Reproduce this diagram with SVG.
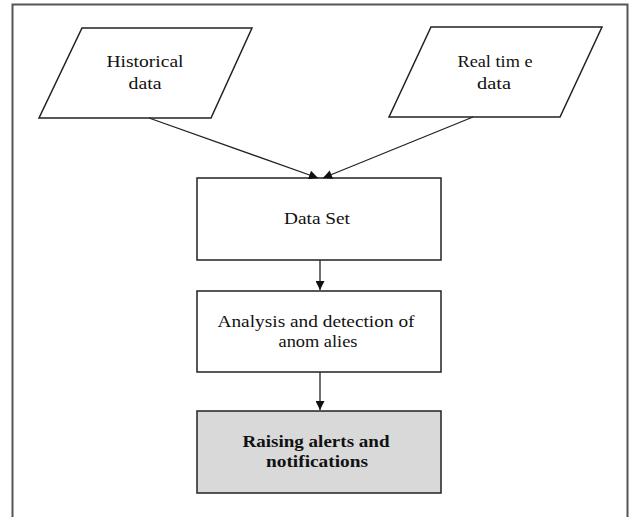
<svg xmlns="http://www.w3.org/2000/svg" width="630" height="517" viewBox="0 0 630 517">
<defs>
<style>
.shape{fill:#fff;stroke:#222;stroke-width:1.5}
.hl{fill:#d9d9d9}
.t{font-family:"Liberation Serif","Times New Roman",serif;font-size:17px;fill:#111;text-anchor:middle}
.b{font-weight:bold}
.c{stroke:#222;stroke-width:1.3;fill:none;marker-end:url(#ah)}
</style>
<marker id="ah" viewBox="0 0 10 10" refX="10" refY="5" markerWidth="10" markerHeight="9" markerUnits="userSpaceOnUse" orient="auto">
<path d="M0,0 L10,5 L0,10 Z" fill="#111"/>
</marker>
</defs>
<rect x="0" y="0" width="630" height="517" fill="#fff"/>
<path d="M12.5,520 V4.5 H627.5 V520" fill="none" stroke="#555" stroke-width="2"/>
<g id="historical">
<polygon class="shape" points="82,28 252,28 211,118 39,118"/>
<text class="t" x="145" y="67" textLength="77" lengthAdjust="spacingAndGlyphs">Historical</text>
<text class="t" x="145" y="89" textLength="33" lengthAdjust="spacingAndGlyphs">data</text>
</g>
<g id="realtime">
<polygon class="shape" points="431,27 602,27 560,117 389,117"/>
<text class="t" x="495" y="67" textLength="75" lengthAdjust="spacingAndGlyphs">Real tim e</text>
<text class="t" x="494" y="89" textLength="34" lengthAdjust="spacingAndGlyphs">data</text>
</g>
<g id="dataset">
<rect class="shape" x="197" y="178" width="244" height="82"/>
<text class="t" x="317" y="224" textLength="66" lengthAdjust="spacingAndGlyphs">Data Set</text>
</g>
<g id="analysis">
<rect class="shape" x="197" y="291" width="244" height="81"/>
<text class="t" x="316" y="327" textLength="197" lengthAdjust="spacingAndGlyphs">Analysis and detection of</text>
<text class="t" x="318" y="347" textLength="79" lengthAdjust="spacingAndGlyphs">anom alies</text>
</g>
<g id="alerts">
<rect class="shape hl" x="197" y="411" width="244" height="82"/>
<text class="t b" x="316" y="447" textLength="147" lengthAdjust="spacingAndGlyphs">Raising alerts and</text>
<text class="t b" x="317" y="467" textLength="102" lengthAdjust="spacingAndGlyphs">notifications</text>
</g>
<g id="connectors">
<line class="c" x1="149" y1="118" x2="318" y2="178"/>
<line class="c" x1="473" y1="117" x2="323" y2="178"/>
<line class="c" x1="320" y1="260" x2="320" y2="290"/>
<line class="c" x1="320" y1="372" x2="320" y2="410"/>
</g>
</svg>
